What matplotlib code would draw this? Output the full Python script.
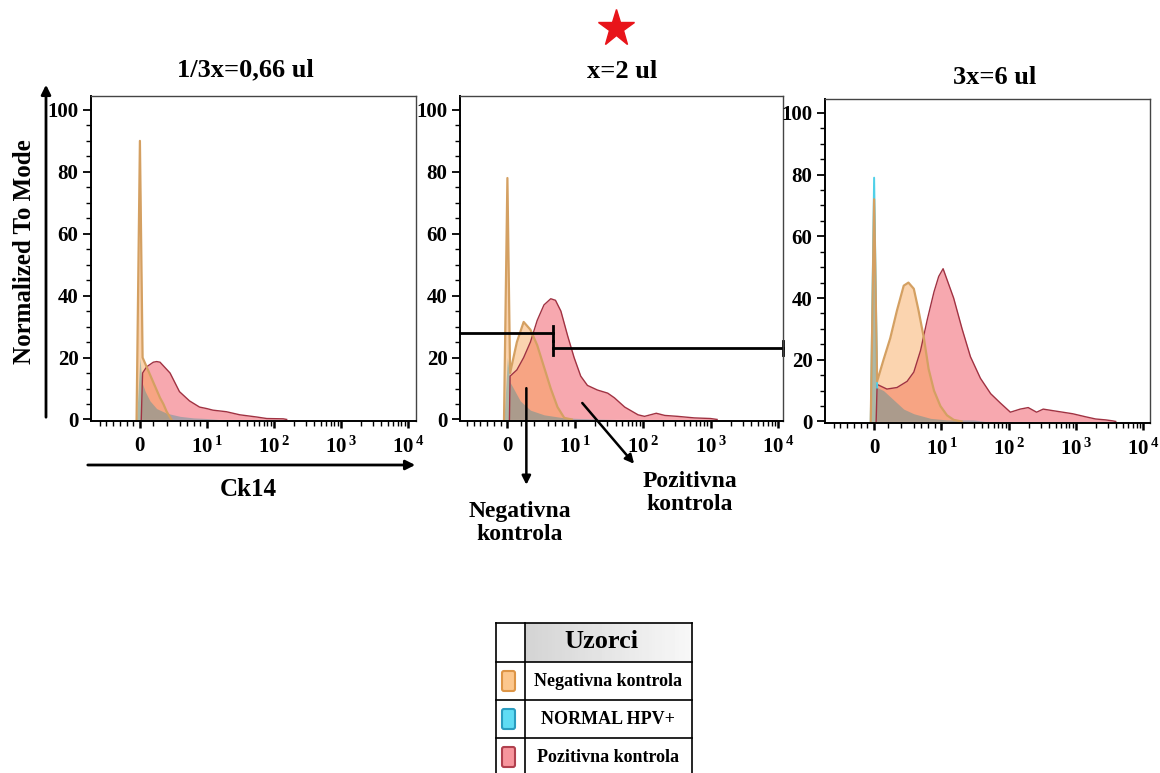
import numpy as np
import matplotlib
matplotlib.use("Agg")
import matplotlib.pyplot as plt
import matplotlib.patches as mpatches
from matplotlib.lines import Line2D
from matplotlib.ticker import FixedLocator

plt.rcParams['font.family'] = ['Liberation Serif', 'DejaVu Serif']
plt.rcParams['font.weight'] = 'bold'
plt.rcParams['mathtext.fontset'] = 'custom'
plt.rcParams['mathtext.rm'] = 'Liberation Serif:bold'
plt.rcParams['mathtext.it'] = 'Liberation Serif:bold'
plt.rcParams['mathtext.bf'] = 'Liberation Serif:bold'

# --- data (Ck14 intensity, % of mode) ---
titles = ['1/3x=0,66 ul', 'x=2 ul', '3x=6 ul']
series_names = ['Negativna kontrola', 'NORMAL HPV+', 'Pozitivna kontrola']
x_ticks = [0, 10, 100, 1000, 10000]
x_ticklabels = ['0', r'$10^{\,1}$', r'$10^{\,2}$', r'$10^{\,3}$', r'$10^{\,4}$']
y_ticks = [0, 20, 40, 60, 80, 100]

neg1_x = [-0.5, 0, 0.4, 1, 2, 3, 3.5, 4, 4.7]
neg1_y = [0, 90, 20, 17, 12, 7, 5, 2.5, 0]
hpv1_x = [-0.5, 0, 0.3, 0.8, 1.5, 2.5, 4, 6, 8, 10, 15]
hpv1_y = [0, 20, 12, 9, 6, 3.5, 2, 1, 0.5, 0.3, 0]
pos1_x = [0.2, 0.4, 1, 2, 2.5, 3, 4.5, 5.9, 7.4, 8.9, 10, 12.3, 19.5, 31, 55, 78, 138, 155]
pos1_y = [0, 15, 17, 18.5, 18.7, 18.5, 15, 9, 6, 4, 3.5, 3, 2.5, 1.5, 0.8, 0.3, 0.2, 0]

neg2_x = [-0.5, 0, 0.4, 1.4, 2.4, 3.4, 4.4, 5.4, 6.4, 7.4, 8.4, 9.5]
neg2_y = [0, 78, 15, 25, 31.5, 29, 24, 17, 10, 4, 0.5, 0]
hpv2_x = [-0.5, 0, 0.4, 1.9, 3.4, 5.4, 8.4, 12, 25, 40]
hpv2_y = [0, 20, 12, 6, 3, 1.5, 0.5, 0.3, 0.1, 0]
pos2_x = [0.3, 0.4, 1.4, 2.4, 3.4, 4.4, 5.4, 6.4, 7.1, 7.9, 8.9, 9.85, 12.1, 15.2, 21.4,
          30.3, 38, 54, 85, 106, 158, 211, 327, 575, 1000, 1250]
pos2_y = [0, 14, 16, 20, 25, 32, 37, 39, 38.5, 35, 27, 20, 14, 11, 9.5,
          8.5, 7, 4, 1.5, 1, 2, 1.3, 1, 0.5, 0.3, 0]

neg3_x = [-0.5, 0, 0.45, 1.4, 2.4, 3.4, 4.4, 5.1, 5.9, 6.6, 7.4, 8.1, 8.9, 9.85, 12.1, 15.3, 20]
neg3_y = [0, 72, 13, 20, 27, 36, 44, 45, 43, 36, 27, 17, 10, 5, 2, 0.5, 0]
hpv3_x = [-0.5, 0, 0.45, 1.4, 2.9, 4.4, 5.9, 8.4, 12.1, 30, 38, 45]
hpv3_y = [0, 79, 11, 10, 7, 4, 2.5, 1, 0.5, 0.5, 0.2, 0]
pos3_x = [0.3, 0.45, 1.9, 3.4, 4.9, 5.9, 6.9, 7.9, 8.9, 9.6, 10.6, 12.1, 15.2, 20.3, 27, 38,
          54, 75, 106, 148, 195, 260, 326, 454, 637, 893, 1400, 1960, 2780, 3500, 3900]
pos3_y = [0, 12, 10.5, 11, 13, 16, 23, 33, 42, 47, 49.5, 46, 40, 30, 21, 14,
          9, 6, 3, 4, 4.5, 3, 4, 3.5, 3, 2.5, 1.5, 0.8, 0.5, 0.2, 0]

# gates drawn on the middle panel
gate_split = 6.8
neg_gate_y = 27.8
pos_gate_y = 23

panels = [
    (neg1_x, neg1_y, hpv1_x, hpv1_y, pos1_x, pos1_y),
    (neg2_x, neg2_y, hpv2_x, hpv2_y, pos2_x, pos2_y),
    (neg3_x, neg3_y, hpv3_x, hpv3_y, pos3_x, pos3_y),
]
xlims = [(-7.3, 13200), (-7.0, 11750), (-7.3, 12600)]
boxes = [(91, 96, 416, 421), (460, 96, 783, 421), (825, 99, 1150, 423)]
title_pos = [(245, 70), (622, 72), (995, 77)]

fill_cols = {'neg': '#f8a14e', 'hpv': '#3a8f9a', 'pos': '#f26e7a'}
edge_cols = {'neg': '#d4a062', 'hpv': '#4fd0e8', 'pos': '#a03242'}

W, H = 1160, 773
fig = plt.figure(figsize=(W / 100, H / 100), dpi=100)


def px_axes(l, t, r, b):
    return fig.add_axes([l / W, 1 - b / H, (r - l) / W, (b - t) / H])


minor_x = [-6, -5, -4, -3, -2, -1, 2, 4, 6, 7, 8, 9]
for dec in [10, 100, 1000]:
    minor_x += [dec * k for k in range(2, 10)]

axes = []
for i, (nx, ny, hx, hy, px_, py) in enumerate(panels):
    ax = px_axes(*boxes[i])
    ax.set_xscale('symlog', linthresh=10, linscale=0.9)
    ax.fill_between(px_, py, color=fill_cols['pos'], alpha=0.6, lw=0)
    ax.plot(px_, py, color=edge_cols['pos'], lw=1.0)
    if max(hy) > max(ny):
        # cyan tip only shows where the HPV+ peak rises above the orange spike
        ax.plot(hx[:3], hy[:3], color=edge_cols['hpv'], lw=1.4)
    ax.fill_between(nx, ny, color=fill_cols['neg'], alpha=0.45, lw=0)
    ax.plot(nx, ny, color=edge_cols['neg'], lw=1.6)
    ax.fill_between(hx, hy, color=fill_cols['hpv'], alpha=0.4, lw=0)

    ax.set_xlim(*xlims[i])
    ax.set_ylim(-0.5, 104.5)
    ax.xaxis.set_major_locator(FixedLocator(x_ticks))
    ax.xaxis.set_minor_locator(FixedLocator(minor_x))
    ax.set_xticklabels(x_ticklabels)
    ax.set_yticks(y_ticks)
    ax.yaxis.set_minor_locator(FixedLocator(np.arange(0, 101, 5)))
    ax.tick_params(axis='both', which='major', labelsize=15, direction='out', color='k')
    ax.tick_params(axis='y', which='major', length=6, width=1.3, pad=3)
    ax.tick_params(axis='y', which='minor', length=3.5, width=1.0)
    ax.tick_params(axis='x', which='major', length=5, width=1.8, pad=6)
    ax.tick_params(axis='x', which='minor', length=3.5, width=1.0)
    for s in ['top', 'right']:
        ax.spines[s].set_color('#444444')
        ax.spines[s].set_linewidth(1.0)
    for s in ['left', 'bottom']:
        ax.spines[s].set_color('k')
        ax.spines[s].set_linewidth(1.4)
    fig.text(title_pos[i][0] / W, 1 - title_pos[i][1] / H, titles[i],
             ha='center', va='center', fontsize=19, fontweight='bold')
    axes.append(ax)

# gates on middle panel
ax2 = axes[1]
lo, hi = xlims[1]
ax2.plot([lo, gate_split], [neg_gate_y, neg_gate_y], color='k', lw=2, clip_on=False)
ax2.plot([gate_split, gate_split], [neg_gate_y - 2.3, neg_gate_y + 2.3], color='k', lw=2)
ax2.plot([gate_split, hi], [pos_gate_y, pos_gate_y], color='k', lw=2, clip_on=False)
ax2.plot([gate_split, gate_split], [pos_gate_y - 2.3, pos_gate_y + 2.3], color='k', lw=2)
ax2.plot([hi, hi], [pos_gate_y - 2.3, pos_gate_y + 2.3], color='k', lw=2, clip_on=False)

arrow_kw = dict(arrowstyle='-|>', lw=1.8, color='k', mutation_scale=13)
ax2.annotate('', xy=(2.8, -22), xytext=(2.8, 11), arrowprops=arrow_kw, annotation_clip=False)
ax2.annotate('', xy=(79, -15), xytext=(12, 6), arrowprops=arrow_kw, annotation_clip=False)
fig.text(520 / W, 1 - 523 / H, 'Negativna\nkontrola', ha='center', va='center',
         fontsize=17, fontweight='bold', linespacing=1.15)
fig.text(690 / W, 1 - 493 / H, 'Pozitivna\nkontrola', ha='center', va='center',
         fontsize=17, fontweight='bold', linespacing=1.15)

# outer axis arrows and labels
fig.add_artist(mpatches.FancyArrowPatch((46 / W, 1 - 420 / H), (46 / W, 1 - 82 / H),
                                        transform=fig.transFigure, arrowstyle='-|>',
                                        mutation_scale=14, lw=2, color='k'))
fig.add_artist(mpatches.FancyArrowPatch((85 / W, 1 - 465 / H), (418 / W, 1 - 465 / H),
                                        transform=fig.transFigure, arrowstyle='-|>',
                                        mutation_scale=14, lw=2, color='k'))
fig.text(25 / W, 1 - 252 / H, 'Normalized To Mode', rotation=90, ha='center', va='center',
         fontsize=18, fontweight='bold')
fig.text(248 / W, 1 - 490 / H, 'Ck14', ha='center', va='center', fontsize=18, fontweight='bold')

# red star
fig.add_artist(Line2D([616 / W], [1 - 28 / H], marker='*', ms=28, color='#e8141a',
                      mec='#e8141a', transform=fig.transFigure))

# legend table
lg = px_axes(496, 623, 692, 773)
lg.set_xlim(496, 692)
lg.set_ylim(773, 623)
lg.axis('off')
grad = np.linspace(0.83, 0.97, 50).reshape(1, -1)
lg.imshow(grad, extent=(525, 692, 662, 623), cmap='gray', vmin=0, vmax=1, aspect='auto', zorder=0)
rows = [623, 662, 700, 738, 776]
for y in rows:
    lg.plot([496, 692], [y, y], color='k', lw=1.2, clip_on=False)
for x in [496, 525, 692]:
    lg.plot([x, x], [623, 773], color='k', lw=1.2, clip_on=False)
lg.text(601, 642, 'Uzorci', ha='center', va='center', fontsize=19, fontweight='bold')
icon_fill = ['#fcc78d', '#5fdcf4', '#f7959d']
icon_edge = ['#dd9546', '#2a9cbf', '#b0404e']
for k, name in enumerate(series_names):
    yc = (rows[k + 1] + rows[k + 2]) / 2
    lg.add_patch(mpatches.FancyBboxPatch((502, yc - 10), 13, 20,
                                         boxstyle='round,pad=0,rounding_size=2',
                                         fc=icon_fill[k], ec=icon_edge[k], lw=1.5))
    lg.text(608, yc, name, ha='center', va='center', fontsize=13, fontweight='bold')

fig.savefig('out.png', dpi=100)
